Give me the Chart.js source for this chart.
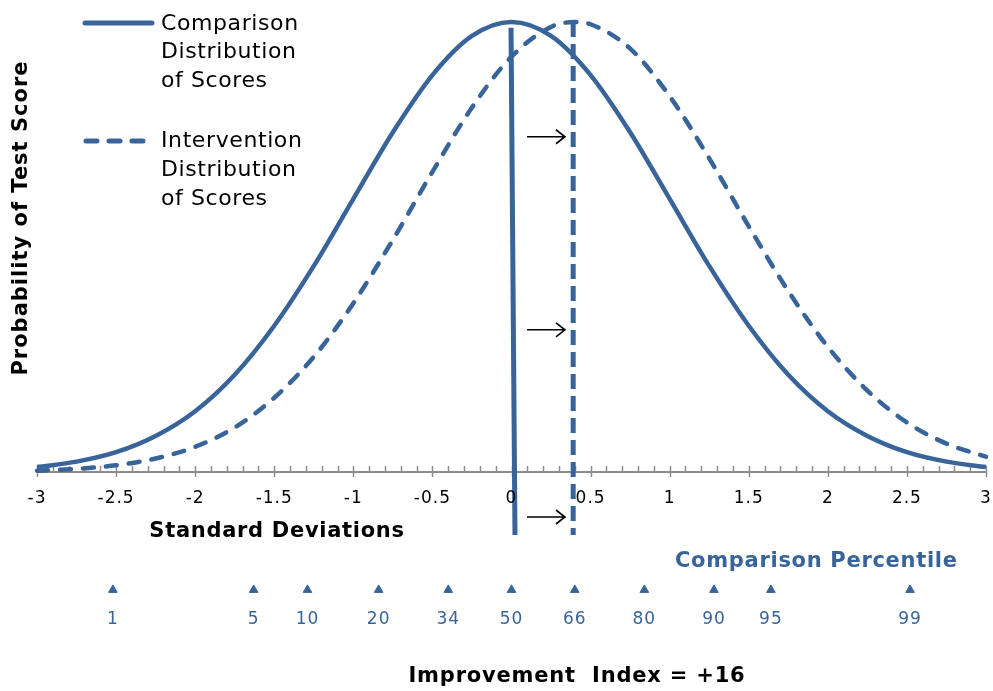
<!DOCTYPE html>
<html>
<head>
<meta charset="utf-8">
<script src="https://cdn.jsdelivr.net/npm/chart.js@4.4.0/dist/chart.umd.min.js"></script>
<style>
html, body { margin: 0; padding: 0; background: #fff; }
#wrap { width: 993px; height: 691px; }
</style>
</head>
<body>
<div id="wrap"><canvas id="curvas"></canvas></div>
<script>
// valores (altura relativa, pico = 1)
var sdX = [-3, -2.75, -2.5, -2.25, -2, -1.75, -1.5, -1.25, -1, -0.75, -0.5, -0.25, 0, 0.25, 0.5, 0.75, 1, 1.25, 1.5, 1.75, 2, 2.25, 2.5, 2.75, 3];
var comparison = [0.011, 0.023, 0.044, 0.080, 0.135, 0.216, 0.325, 0.458, 0.607, 0.755, 0.882, 0.969, 1.000, 0.969, 0.882, 0.755, 0.607, 0.458, 0.325, 0.216, 0.135, 0.080, 0.044, 0.023, 0.011];
var intervX = [-3, -2.75, -2.5, -2.25, -2, -1.75, -1.5, -1.25, -1, -0.75, -0.5, -0.25, 0, 0.25, 0.4, 0.5, 0.75, 1, 1.25, 1.5, 1.75, 2, 2.25, 2.5, 2.75, 3];
var intervention = [0.003, 0.007, 0.015, 0.030, 0.056, 0.099, 0.165, 0.256, 0.375, 0.516, 0.667, 0.810, 0.923, 0.989, 1.000, 0.995, 0.941, 0.835, 0.697, 0.546, 0.402, 0.278, 0.181, 0.110, 0.063, 0.034];
var compMean = 0;
var intervMean = 0.4;
var xTicks = [-3, -2.5, -2, -1.5, -1, -0.5, 0, 0.5, 1, 1.5, 2, 2.5, 3];
var percentiles = [1, 5, 10, 20, 34, 50, 66, 80, 90, 95, 99];
var percentileZ = [-2.52, -1.63, -1.29, -0.84, -0.40, 0, 0.40, 0.84, 1.28, 1.64, 2.52];
var arrowLevels = [0.745, 0.316, -0.10];

var azul = "#38649a";
var pctY = -0.262;

function pts(xs, ys) {
  var out = [];
  for (var i = 0; i < xs.length; i++) out.push({x: xs[i], y: ys[i]});
  return out;
}
var marcas = [];
for (var i = 0; i < percentileZ.length; i++) marcas.push({x: percentileZ[i], y: pctY});

var extras = {
  id: "extras",
  beforeDatasetsDraw: function(chart) {
    var c = chart.ctx, sx = chart.scales.x, sy = chart.scales.y;
    var y0 = sy.getPixelForValue(0);
    c.save();
    c.strokeStyle = "#8c8c8c";
    c.lineWidth = 2;
    c.beginPath();
    c.moveTo(sx.getPixelForValue(-3), y0);
    c.lineTo(sx.getPixelForValue(3), y0);
    c.stroke();
    c.lineWidth = 1.5;
    for (var k = -30; k <= 30; k++) {
      var px = Math.round(sx.getPixelForValue(k / 10)) + 0.5;
      c.beginPath();
      c.moveTo(px, y0 - 6);
      c.lineTo(px, k % 5 === 0 ? y0 + 5 : y0);
      c.stroke();
    }
    c.restore();
  },
  afterDraw: function(chart) {
    var c = chart.ctx, sx = chart.scales.x, sy = chart.scales.y;
    var y0 = sy.getPixelForValue(0);
    c.save();
    // etiquetas del eje
    c.fillStyle = "#000";
    c.font = "17px 'DejaVu Sans'";
    c.letterSpacing = "1px";
    c.textAlign = "center";
    c.textBaseline = "middle";
    for (var i = 0; i < xTicks.length; i++) {
      c.fillText(String(xTicks[i]), sx.getPixelForValue(xTicks[i]), y0 + 27);
    }
    // titulos
    c.font = "bold 21px 'DejaVu Sans'";
    c.letterSpacing = "0.7px";
    c.fillText("Standard Deviations", 277, 532);
    c.letterSpacing = "0.8px";
    c.fillText("Improvement  Index = +16", 577, 677);
    c.save();
    c.letterSpacing = "1px";
    c.translate(22, 218);
    c.rotate(-Math.PI / 2);
    c.fillText("Probability of Test Score", 0, 0);
    c.restore();
    c.fillStyle = azul;
    c.textAlign = "left";
    c.letterSpacing = "0.7px";
    c.fillText("Comparison Percentile", 675, 562);
    // percentiles
    c.font = "17px 'DejaVu Sans'";
    c.letterSpacing = "1px";
    c.textAlign = "center";
    for (var j = 0; j < percentiles.length; j++) {
      c.fillText(String(percentiles[j]), sx.getPixelForValue(percentileZ[j]), 620);
    }
    // flechas
    c.strokeStyle = "#000";
    c.lineWidth = 1.6;
    var xa = sx.getPixelForValue(0.098), xb = sx.getPixelForValue(0.338);
    for (var a = 0; a < arrowLevels.length; a++) {
      var ya = sy.getPixelForValue(arrowLevels[a]);
      c.beginPath();
      c.moveTo(xa, ya);
      c.lineTo(xb, ya);
      c.moveTo(xb - 9, ya - 7);
      c.lineTo(xb, ya);
      c.lineTo(xb - 9, ya + 7);
      c.stroke();
    }
    // leyenda
    c.strokeStyle = azul;
    c.lineWidth = 5;
    c.lineCap = "round";
    c.beginPath();
    c.moveTo(85, 23);
    c.lineTo(152, 23);
    c.stroke();
    c.setLineDash([11, 12]);
    c.beginPath();
    c.moveTo(86, 141);
    c.lineTo(152, 141);
    c.stroke();
    c.setLineDash([]);
    c.fillStyle = "#000";
    c.textAlign = "left";
    c.font = "22px 'DejaVu Sans'";
    c.letterSpacing = "0.6px";
    var leyenda = [["Comparison", 24], ["Distribution", 52], ["of Scores", 81],
                   ["Intervention", 141], ["Distribution", 170], ["of Scores", 199]];
    for (var m = 0; m < leyenda.length; m++) c.fillText(leyenda[m][0], 161, leyenda[m][1]);
    c.restore();
  }
};

new Chart(document.getElementById("curvas").getContext("2d"), {
  type: "line",
  data: {
    datasets: [{
      label: "Comparison Distribution of Scores",
      data: pts(sdX, comparison),
      borderColor: azul,
      borderWidth: 4.5,
      pointRadius: 0,
      cubicInterpolationMode: "monotone",
      clip: false
    }, {
      label: "Intervention Distribution of Scores",
      data: pts(intervX, intervention),
      borderColor: azul,
      borderWidth: 4.5,
      borderDash: [11, 12],
      borderCapStyle: "round",
      pointRadius: 0,
      cubicInterpolationMode: "monotone",
      clip: false
    }, {
      label: "comp mean",
      data: [{x: compMean - 0.003, y: 0.987}, {x: compMean + 0.022, y: -0.14}],
      borderColor: azul,
      borderWidth: 5,
      pointRadius: 0,
      clip: false
    }, {
      label: "interv mean",
      data: [{x: intervMean - 0.01, y: 1.0}, {x: intervMean - 0.01, y: -0.14}],
      borderColor: azul,
      borderWidth: 5,
      borderDash: [15, 7],
      pointRadius: 0,
      clip: false
    }, {
      type: "scatter",
      label: "percentiles",
      data: marcas,
      showLine: false,
      pointStyle: "triangle",
      pointRadius: 5,
      backgroundColor: azul,
      borderColor: azul,
      borderWidth: 1,
      clip: false
    }]
  },
  options: {
    responsive: true,
    maintainAspectRatio: false,
    animation: false,
    // el eje y baja a -0.3 para que los triangulos queden dentro del area
    layout: { padding: { left: 37, right: 7, top: 22, bottom: 84 } },
    scales: {
      x: { type: "linear", min: -3, max: 3, display: false },
      y: { min: -0.3, max: 1, display: false }
    },
    plugins: { legend: { display: false }, tooltip: { enabled: false } }
  },
  plugins: [extras]
});
</script>
</body>
</html>
